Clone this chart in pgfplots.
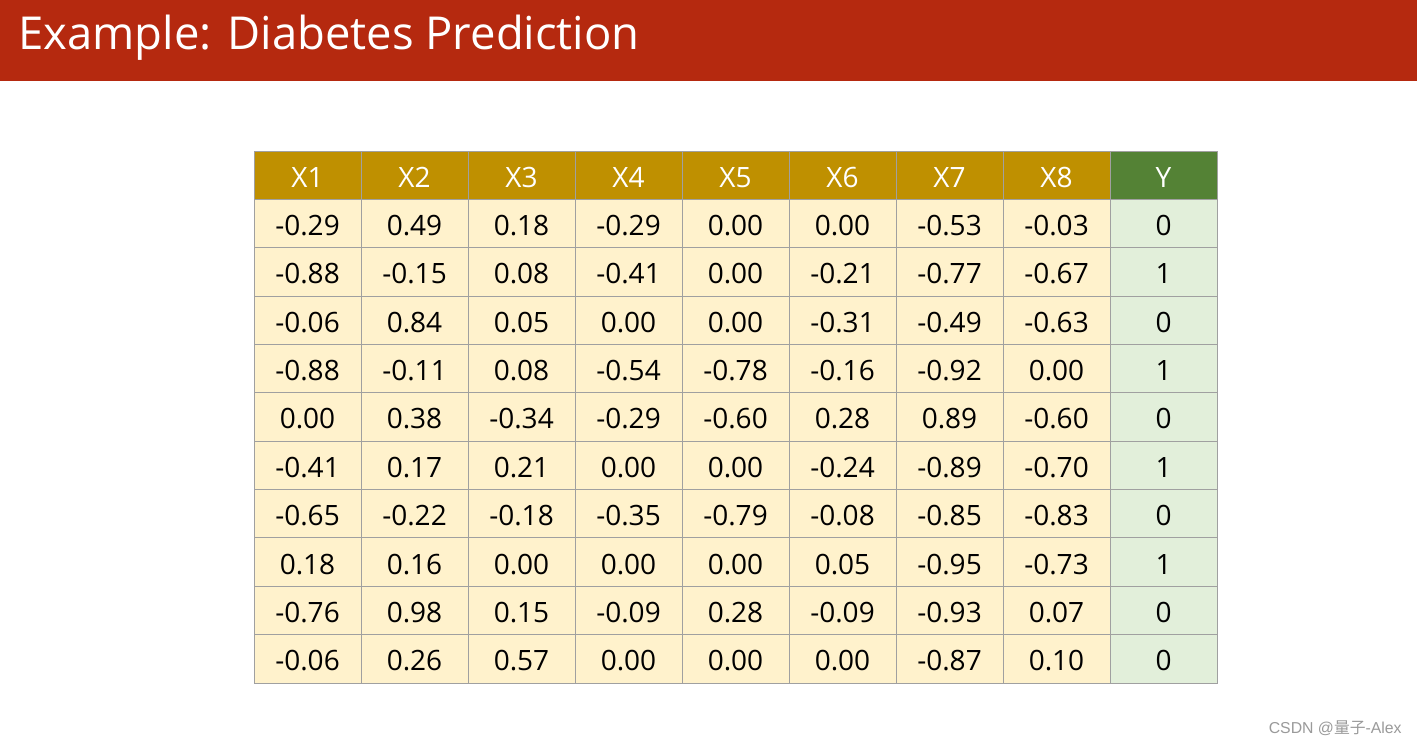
\documentclass[border=0pt]{standalone}
\usepackage{fontspec}
\setmainfont{Open Sans}
\newfontfamily\wmfont{Liberation Sans}
\newfontfamily\cjk{Noto Sans CJK SC}
\usepackage{pgfplots}
\usepackage{pgfplotstable}
\pgfplotsset{compat=1.18}
\definecolor{titlered}{HTML}{B5290F}
\definecolor{hdrgold}{HTML}{BF9000}
\definecolor{hdrgreen}{HTML}{548235}
\definecolor{cellyellow}{HTML}{FFF2CC}
\definecolor{cellgreen}{HTML}{E2EFDA}
\definecolor{gridgray}{HTML}{A0A0A0}
\definecolor{wmgray}{HTML}{9A9A9A}

% row index, features, label
\pgfplotstableread{
r  X1    X2    X3    X4    X5    X6    X7    X8    Y
1  -0.29 0.49  0.18  -0.29 0.00  0.00  -0.53 -0.03 0
2  -0.88 -0.15 0.08  -0.41 0.00  -0.21 -0.77 -0.67 1
3  -0.06 0.84  0.05  0.00  0.00  -0.31 -0.49 -0.63 0
4  -0.88 -0.11 0.08  -0.54 -0.78 -0.16 -0.92 0.00  1
5  0.00  0.38  -0.34 -0.29 -0.60 0.28  0.89  -0.60 0
6  -0.41 0.17  0.21  0.00  0.00  -0.24 -0.89 -0.70 1
7  -0.65 -0.22 -0.18 -0.35 -0.79 -0.08 -0.85 -0.83 0
8  0.18  0.16  0.00  0.00  0.00  0.05  -0.95 -0.73 1
9  -0.76 0.98  0.15  -0.09 0.28  -0.09 -0.93 0.07  0
10 -0.06 0.26  0.57  0.00  0.00  0.00  -0.87 0.10  0
}\data

\begin{document}
\begin{tikzpicture}
% page in pixel units (1px = 0.5bp)
\begin{axis}[
  name=page,
  width=708.5bp, height=372bp, scale only axis,
  xmin=0, xmax=1417, ymin=0, ymax=744, y dir=reverse,
  hide axis, clip=false,
]
\addplot[fill=white, draw=none] coordinates {(0,0) (1417,0) (1417,744) (0,744)} -- cycle;
\addplot[fill=titlered, draw=none] coordinates {(0,0) (1417,0) (1417,81) (0,81)} -- cycle;
\node[anchor=base west, text=white, font=\fontsize{22.7bp}{27bp}\selectfont, inner sep=0pt]
  at (axis cs:18,50) {Example: Diabetes Prediction};
\node[anchor=base east, text=wmgray, font=\fontsize{7.9bp}{9.5bp}\selectfont, inner sep=0pt]
  at (axis cs:1402,733) {\wmfont CSDN @{\cjk 量子}-Alex};
\end{axis}

% table
\begin{axis}[
  at={(127bp,30.5bp)}, anchor=south west,
  width=481.5bp, height=266bp, scale only axis,
  xmin=0, xmax=9, ymin=0, ymax=11, y dir=reverse,
  xtick={0,...,9}, ytick={0,...,11},
  xticklabels={}, yticklabels={},
  major tick length=0pt,
  grid=major, grid style={draw=gridgray, line width=0.5pt},
  axis line style={draw=gridgray, line width=0.5pt},
  axis on top, clip=false,
  nodes near coords style={anchor=center, font=\fontsize{14bp}{17bp}\selectfont,
    inner sep=0pt, text height=10bp, text depth=0pt},
]
\addplot[fill=hdrgold, draw=none] coordinates {(0,0) (8,0) (8,1) (0,1)} -- cycle;
\addplot[fill=hdrgreen, draw=none] coordinates {(8,0) (9,0) (9,1) (8,1)} -- cycle;
\addplot[fill=cellyellow, draw=none] coordinates {(0,1) (8,1) (8,11) (0,11)} -- cycle;
\addplot[fill=cellgreen, draw=none] coordinates {(8,1) (9,1) (9,11) (8,11)} -- cycle;

% header labels
\addplot[draw=none, nodes near coords, point meta=explicit symbolic,
  nodes near coords style={text=white}]
  coordinates {(0.5,0.54) [X1] (1.5,0.54) [X2] (2.5,0.54) [X3] (3.5,0.54) [X4]
    (4.5,0.54) [X5] (5.5,0.54) [X6] (6.5,0.54) [X7] (7.5,0.54) [X8] (8.5,0.54) [Y]};

% cell values
\pgfplotsinvokeforeach{1,...,8}{
  \addplot[draw=none, nodes near coords, point meta=explicit symbolic]
    table[x expr=#1-0.5, y expr=\thisrow{r}+0.54, meta=X#1] {\data};
}
\addplot[draw=none, nodes near coords, point meta=explicit symbolic]
  table[x expr=8.5, y expr=\thisrow{r}+0.54, meta=Y] {\data};
\end{axis}
\end{tikzpicture}
\end{document}
